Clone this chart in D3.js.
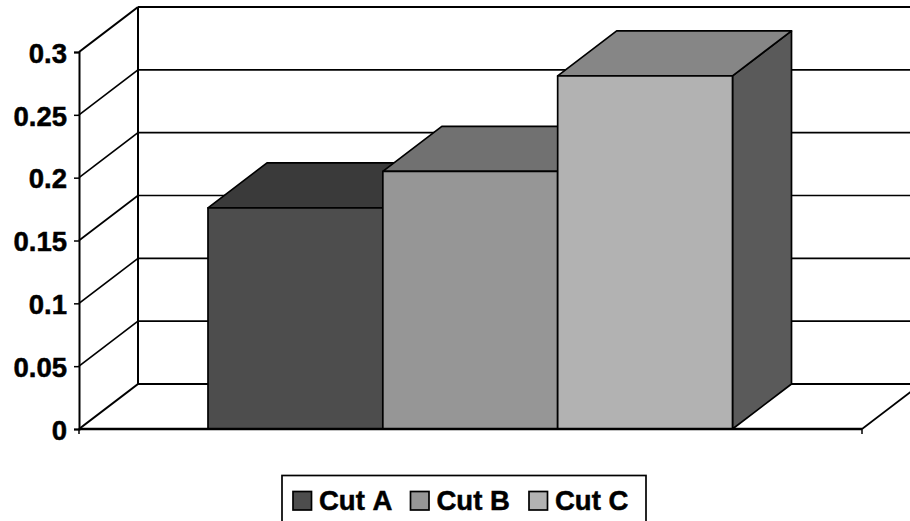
<!DOCTYPE html>
<html>
<head>
<meta charset="utf-8">
<script src="https://cdn.jsdelivr.net/npm/d3@7"></script>
<style>
	html, body { margin: 0; padding: 0; background: #fff; overflow: hidden; }
	svg { display: block; }
	text { font-family: "Liberation Sans", Arial, sans-serif; font-weight: bold; fill: #000; stroke: #000; stroke-width: 0.5px; font-kerning: none; }
</style>
</head>
<body>
<svg id="chart" width="910" height="521"></svg>
<script>
// data
const seriesNames = ['Cut A', 'Cut B', 'Cut C'];
const seriesValues = [0.176, 0.205, 0.281];
const frontColors = ['#4d4d4d', '#969696', '#b2b2b2'];
const topColors = ['#3a3a3a', '#717171', '#868686'];
const sideColors = ['#3a3a3a', '#4c4c4c', '#5a5a5a'];
const tickValues = [0, 0.05, 0.1, 0.15, 0.2, 0.25, 0.3];

// the 3d box: front plane and how far the back wall is shifted
const depthX = 59,
	depthY = -45;

const svg = d3.select('#chart');

const yScale = d3.scaleLinear()
	.domain([0, 0.3])
	.range([429, 52]);

const xLeft = 79,
	xRight = 862;

const barScale = d3.scaleBand()
	.domain(seriesNames)
	.range([208, 732.5]);

const base = yScale(0);

// gridlines on the back wall, and their slanted part on the left wall
const grid = svg.append('g').attr('fill', 'none').attr('stroke', '#000');

grid.selectAll('.grid-back')
	.data(tickValues)
	.enter()
	.append('line')
	.attr('class', 'grid-back')
	.attr('x1', xLeft + depthX)
	.attr('x2', xRight + depthX)
	.attr('y1', d => yScale(d) + depthY)
	.attr('y2', d => yScale(d) + depthY)
	.attr('stroke-width', d => (d === 0 || d === 0.3) ? 2.2 : 1.7);

grid.selectAll('.grid-left')
	.data(tickValues)
	.enter()
	.append('line')
	.attr('class', 'grid-left')
	.attr('x1', xLeft)
	.attr('x2', xLeft + depthX)
	.attr('y1', d => yScale(d))
	.attr('y2', d => yScale(d) + depthY)
	.attr('stroke-width', d => (d === 0 || d === 0.3) ? 2.2 : 1.7);

// back wall left edge, floor right edge
grid.append('line')
	.attr('x1', xLeft + depthX)
	.attr('x2', xLeft + depthX)
	.attr('y1', yScale(0.3) + depthY)
	.attr('y2', base + depthY)
	.attr('stroke-width', 2);

grid.append('line')
	.attr('x1', xRight)
	.attr('x2', xRight + depthX)
	.attr('y1', base)
	.attr('y2', base + depthY)
	.attr('stroke-width', 1.7);

// bars, drawn left to right so each covers the side of the one before
const bars = svg.append('g')
	.selectAll('g')
	.data(seriesNames)
	.enter()
	.append('g')
	.attr('stroke', '#000')
	.attr('stroke-width', 1.7)
	.attr('stroke-linejoin', 'round');

bars.append('path')
	.attr('fill', (d, i) => sideColors[i])
	.attr('d', (d, i) => {
		const x = barScale(d) + barScale.bandwidth(),
			y = yScale(seriesValues[i]);
		return d3.line()([[x, base], [x + depthX, base + depthY], [x + depthX, y + depthY], [x, y]]) + 'Z';
	});

bars.append('path')
	.attr('fill', (d, i) => topColors[i])
	.attr('d', (d, i) => {
		const x = barScale(d),
			w = barScale.bandwidth(),
			y = yScale(seriesValues[i]);
		return d3.line()([[x, y], [x + depthX, y + depthY], [x + w + depthX, y + depthY], [x + w, y]]) + 'Z';
	});

bars.append('rect')
	.attr('x', d => barScale(d))
	.attr('y', (d, i) => yScale(seriesValues[i]))
	.attr('width', barScale.bandwidth())
	.attr('height', (d, i) => base - yScale(seriesValues[i]))
	.attr('fill', (d, i) => frontColors[i]);

// value axis
const yAxis = d3.axisLeft(yScale)
	.tickValues(tickValues)
	.tickFormat(d => String(d))
	.tickSize(5)
	.tickPadding(7);

const yAxisG = svg.append('g')
	.attr('transform', 'translate(' + xLeft + ',0)')
	.call(yAxis);

yAxisG.select('.domain').attr('stroke', '#000').attr('stroke-width', 2);
yAxisG.selectAll('.tick line').attr('stroke', '#000').attr('stroke-width', 1.5);
yAxisG.selectAll('.tick text')
	.attr('y', 1.5)
	.attr('font-size', 27.5)
	.attr('font-family', '"Liberation Sans", Arial, sans-serif')
	.attr('font-weight', 'bold')
	.attr('fill', '#000');

// category axis along the floor front
const xAxisG = svg.append('g').attr('stroke', '#000');

xAxisG.append('line')
	.attr('x1', xLeft)
	.attr('x2', xRight)
	.attr('y1', base)
	.attr('y2', base)
	.attr('stroke-width', 2.5);

xAxisG.selectAll('.x-tick')
	.data([xLeft, xRight])
	.enter()
	.append('line')
	.attr('class', 'x-tick')
	.attr('x1', d => d)
	.attr('x2', d => d)
	.attr('y1', base)
	.attr('y2', base + 5)
	.attr('stroke-width', 1.5);

// legend, box runs off the bottom edge
const legendSwatchX = [293, 410.5, 529];

svg.append('rect')
	.attr('x', 282)
	.attr('y', 475.5)
	.attr('width', 364)
	.attr('height', 60)
	.attr('fill', '#fff')
	.attr('stroke', '#000')
	.attr('stroke-width', 1.7);

const legendItems = svg.append('g')
	.selectAll('g')
	.data(seriesNames)
	.enter()
	.append('g')
	.attr('transform', (d, i) => 'translate(' + legendSwatchX[i] + ',491.5)');

legendItems.append('rect')
	.attr('width', 18.5)
	.attr('height', 18.5)
	.attr('fill', (d, i) => frontColors[i])
	.attr('stroke', '#000')
	.attr('stroke-width', 1.7);

legendItems.append('text')
	.attr('x', 26)
	.attr('y', 18.5)
	.attr('font-size', 27.5)
	.text(d => d);
</script>
</body>
</html>
